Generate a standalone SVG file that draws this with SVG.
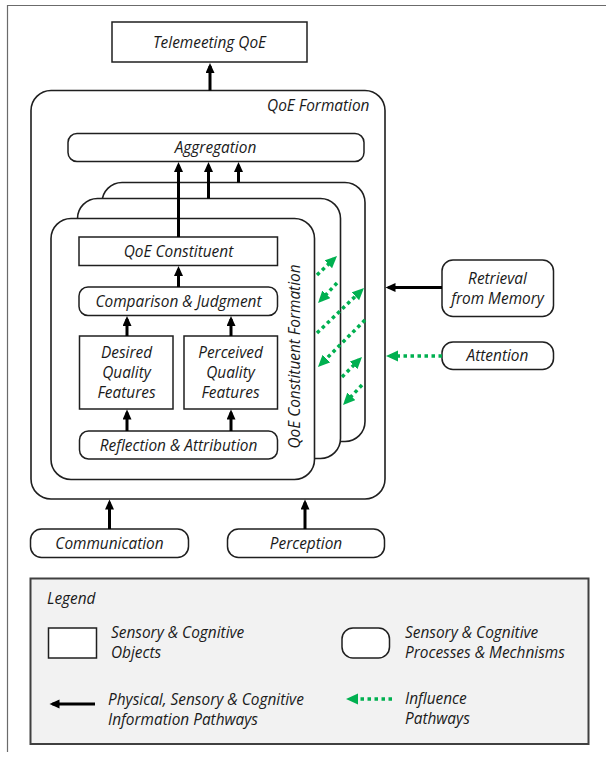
<svg xmlns="http://www.w3.org/2000/svg" width="606" height="758" viewBox="0 0 606 758">
  <style>
    .box { fill: #ffffff; stroke: #1f1f1f; stroke-width: 1.5; }
    .card { fill: #ffffff; stroke: #1f1f1f; stroke-width: 1.6; }
    .lbl { font-family: "Open Sans", "Noto Sans", sans-serif; font-style: italic; font-size: 15.4px; fill: #1a1a1a; }
    .mid { text-anchor: middle; }
    .end { text-anchor: end; }
    .flow { fill: none; stroke: #000000; stroke-width: 3; marker-end: url(#headBlack); }
    .infl { fill: none; stroke: #00b050; stroke-width: 3.5; stroke-dasharray: 3.5 3.5; marker-end: url(#headGreen); }
    .frame { fill: none; stroke: #6b6b6b; stroke-width: 1.2; }
  </style>
  <defs>
    <marker id="headBlack" markerUnits="userSpaceOnUse" markerWidth="11" markerHeight="10" refX="7" refY="4.5" orient="auto">
      <path d="M0,0 L10,4.5 L0,9 Z" fill="#000000"/>
    </marker>
    <marker id="headGreen" markerUnits="userSpaceOnUse" markerWidth="14" markerHeight="13" refX="8" refY="5.5" orient="auto">
      <path d="M0,0 L12,5.5 L0,11 Z" fill="#00b050"/>
    </marker>
  </defs>

  <rect width="606" height="758" fill="#ffffff"/>
  <!-- page frame -->
  <path class="frame" d="M7.5,752 L7.5,5.5 L606,5.5"/>

  <g id="telemeeting-qoe">
    <rect class="box" x="112" y="22" width="195" height="40"/>
    <text class="lbl mid" x="209.5" y="47.5">Telemeeting QoE</text>
  </g>

  <g id="qoe-formation">
    <rect class="card" x="31" y="90.5" width="354" height="408.5" rx="20"/>
    <text class="lbl end" x="369.5" y="111">QoE Formation</text>
  </g>

  <g id="aggregation">
    <rect class="box" x="68" y="133.5" width="296" height="28" rx="9"/>
    <text class="lbl mid" x="215.5" y="153">Aggregation</text>
  </g>

  <!-- stacked constituent formation cards, back to front -->
  <g id="constituent-card-back">
    <rect class="card" x="102" y="182.5" width="263" height="259" rx="20"/>
  </g>
  <g id="constituent-card-middle">
    <rect class="card" x="77.5" y="198.5" width="263" height="260" rx="20"/>
  </g>
  <g id="constituent-card-front">
    <rect class="card" x="51" y="218.5" width="263.5" height="261" rx="20"/>
    <text class="lbl mid" transform="translate(299.5,356.5) rotate(-90)" x="0" y="0">QoE Constituent Formation</text>
  </g>

  <g id="qoe-constituent">
    <rect class="box" x="79" y="237" width="198.5" height="28.5"/>
    <text class="lbl mid" x="178.5" y="256.5">QoE Constituent</text>
  </g>

  <g id="comparison-judgment">
    <rect class="box" x="79" y="287" width="198.5" height="28.5" rx="9"/>
    <text class="lbl mid" x="178.5" y="306.5">Comparison &amp; Judgment</text>
  </g>

  <g id="desired-quality-features">
    <rect class="box" x="79.5" y="336" width="93.5" height="73"/>
    <text class="lbl mid" x="126.5" y="358">Desired</text>
    <text class="lbl mid" x="126.5" y="378">Quality</text>
    <text class="lbl mid" x="126.5" y="398">Features</text>
  </g>

  <g id="perceived-quality-features">
    <rect class="box" x="184" y="336" width="93.5" height="73"/>
    <text class="lbl mid" x="230.5" y="358">Perceived</text>
    <text class="lbl mid" x="230.5" y="378">Quality</text>
    <text class="lbl mid" x="230.5" y="398">Features</text>
  </g>

  <g id="reflection-attribution">
    <rect class="box" x="79.5" y="431" width="198" height="28" rx="9"/>
    <text class="lbl mid" x="178.5" y="450.5">Reflection &amp; Attribution</text>
  </g>

  <g id="retrieval-from-memory">
    <rect class="box" x="442" y="260" width="111.5" height="56.5" rx="11"/>
    <text class="lbl mid" x="497.5" y="284">Retrieval</text>
    <text class="lbl mid" x="497.5" y="304">from Memory</text>
  </g>

  <g id="attention">
    <rect class="box" x="442" y="342" width="111.5" height="27.5" rx="11"/>
    <text class="lbl mid" x="497.5" y="361">Attention</text>
  </g>

  <g id="communication">
    <rect class="box" x="30.5" y="529" width="158" height="28.5" rx="11"/>
    <text class="lbl mid" x="109.5" y="549">Communication</text>
  </g>

  <g id="perception">
    <rect class="box" x="227.5" y="529" width="157" height="28.5" rx="11"/>
    <text class="lbl mid" x="306" y="549">Perception</text>
  </g>

  <g id="connectors">
    <!-- information pathways -->
    <line class="flow" x1="210" y1="90.5" x2="210" y2="66"/>
    <line class="flow" x1="178.5" y1="237" x2="178.5" y2="165"/>
    <line class="flow" x1="208.5" y1="198.5" x2="208.5" y2="165"/>
    <line class="flow" x1="238.5" y1="182.5" x2="238.5" y2="165"/>
    <line class="flow" x1="178.5" y1="287" x2="178.5" y2="269"/>
    <line class="flow" x1="127" y1="336" x2="127" y2="319"/>
    <line class="flow" x1="231" y1="336" x2="231" y2="319"/>
    <line class="flow" x1="127" y1="431" x2="127" y2="412.5"/>
    <line class="flow" x1="231" y1="431" x2="231" y2="412.5"/>
    <line class="flow" x1="109.5" y1="529" x2="109.5" y2="502.5"/>
    <line class="flow" x1="305" y1="529" x2="305" y2="502.5"/>
    <line class="flow" x1="442" y1="287.5" x2="388.5" y2="287.5"/>
    <!-- influence pathways -->
    <line class="infl" x1="317" y1="275" x2="334.1" y2="258.8"/>
    <line class="infl" x1="337" y1="283" x2="320.8" y2="300.1"/>
    <line class="infl" x1="317" y1="333" x2="361.1" y2="290.8"/>
    <line class="infl" x1="365" y1="320" x2="320.8" y2="364.2"/>
    <line class="infl" x1="342" y1="377" x2="359.2" y2="359.8"/>
    <line class="infl" x1="362" y1="385" x2="345.8" y2="402.1"/>
    <line class="infl" x1="442" y1="356" x2="390" y2="356"/>
  </g>

  <g id="legend">
    <rect x="30.5" y="578.5" width="558" height="165.5" fill="#f2f2f2" stroke="#404040" stroke-width="2"/>
    <text class="lbl" x="47" y="604">Legend</text>
    <rect class="box" x="48.5" y="628" width="48" height="30"/>
    <text class="lbl" x="111" y="638">Sensory &amp; Cognitive</text>
    <text class="lbl" x="111" y="658">Objects</text>
    <rect class="box" x="342" y="628" width="47.5" height="30" rx="11"/>
    <text class="lbl" x="405" y="638">Sensory &amp; Cognitive</text>
    <text class="lbl" x="405" y="658">Processes &amp; Mechnisms</text>
    <line class="flow" x1="95" y1="704" x2="52.5" y2="704"/>
    <text class="lbl" x="108" y="705">Physical, Sensory &amp; Cognitive</text>
    <text class="lbl" x="108" y="725">Information Pathways</text>
    <line class="infl" x1="392" y1="699" x2="350" y2="699"/>
    <text class="lbl" x="405" y="704">Influence</text>
    <text class="lbl" x="405" y="724">Pathways</text>
  </g>
</svg>
